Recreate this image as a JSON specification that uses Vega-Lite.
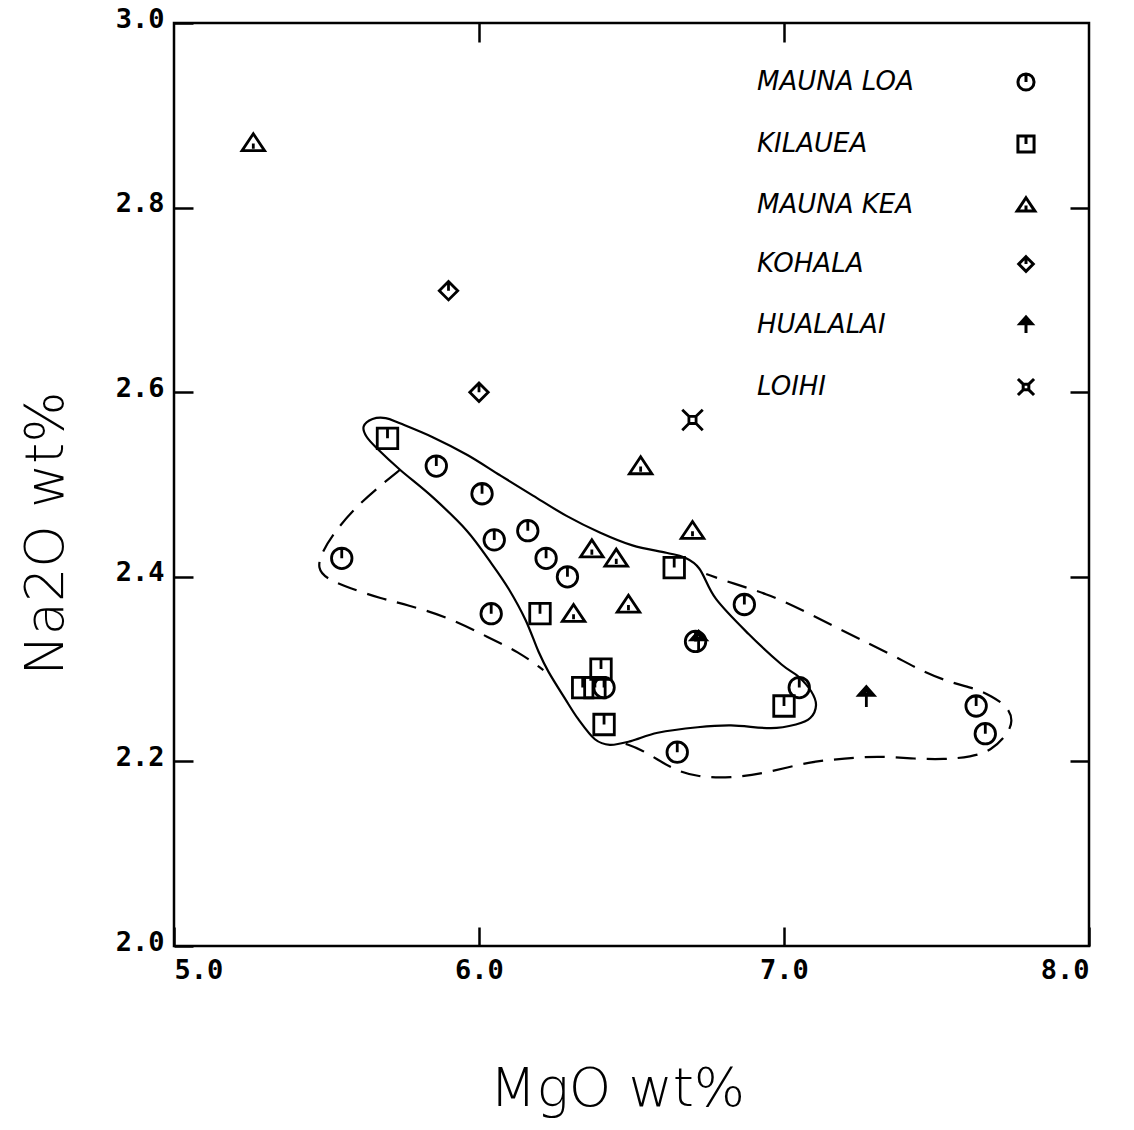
{
  "$schema": "https://vega.github.io/schema/vega-lite/v6.json",
  "width": 915,
  "height": 923,
  "autosize": {"type": "none"},
  "padding": {"left": 174, "top": 23, "right": 45, "bottom": 184},
  "background": "white",
  "config": {
    "view": {"stroke": "black", "strokeWidth": 2.5},
    "axis": {
      "domain": false,
      "grid": false,
      "tickColor": "black",
      "tickWidth": 2.5,
      "tickSize": -19,
      "labelColor": "black",
      "labelFont": "DejaVu Sans Mono",
      "labelFontSize": 27,
      "labelFontWeight": "bold",
      "titleColor": "black",
      "titleFont": "DejaVu Sans",
      "titleFontSize": 54,
      "titleFontWeight": 300
    },
    "legend": {
      "orient": "none", "legendX": 553, "legendY": 46, "padding": 0,
      "symbolOffset": 286, "labelOffset": -282, "rowPadding": 32,
      "symbolSize": 260, "symbolStrokeWidth": 3, "symbolStrokeColor": "black",
      "labelFont": "DejaVu Sans", "labelFontStyle": "italic", "labelFontSize": 26,
      "labelColor": "black", "labelLimit": 0
    }
  },
  "datasets": {
    "samples": [
      {"volcano": "MAUNA LOA", "MgO": 5.55, "Na2O": 2.42},
      {"volcano": "MAUNA LOA", "MgO": 5.86, "Na2O": 2.52},
      {"volcano": "MAUNA LOA", "MgO": 6.01, "Na2O": 2.49},
      {"volcano": "MAUNA LOA", "MgO": 6.05, "Na2O": 2.44},
      {"volcano": "MAUNA LOA", "MgO": 6.16, "Na2O": 2.45},
      {"volcano": "MAUNA LOA", "MgO": 6.22, "Na2O": 2.42},
      {"volcano": "MAUNA LOA", "MgO": 6.29, "Na2O": 2.40},
      {"volcano": "MAUNA LOA", "MgO": 6.04, "Na2O": 2.36},
      {"volcano": "MAUNA LOA", "MgO": 6.87, "Na2O": 2.37},
      {"volcano": "MAUNA LOA", "MgO": 7.05, "Na2O": 2.28},
      {"volcano": "MAUNA LOA", "MgO": 6.65, "Na2O": 2.21},
      {"volcano": "MAUNA LOA", "MgO": 7.63, "Na2O": 2.26},
      {"volcano": "MAUNA LOA", "MgO": 7.66, "Na2O": 2.23},
      {"volcano": "MAUNA LOA", "MgO": 6.71, "Na2O": 2.33},
      {"volcano": "MAUNA LOA", "MgO": 6.41, "Na2O": 2.28},
      {"volcano": "KILAUEA", "MgO": 5.70, "Na2O": 2.55},
      {"volcano": "KILAUEA", "MgO": 6.20, "Na2O": 2.36},
      {"volcano": "KILAUEA", "MgO": 6.64, "Na2O": 2.41},
      {"volcano": "KILAUEA", "MgO": 6.40, "Na2O": 2.30},
      {"volcano": "KILAUEA", "MgO": 6.34, "Na2O": 2.28},
      {"volcano": "KILAUEA", "MgO": 6.38, "Na2O": 2.28},
      {"volcano": "KILAUEA", "MgO": 6.41, "Na2O": 2.24},
      {"volcano": "KILAUEA", "MgO": 7.00, "Na2O": 2.26},
      {"volcano": "MAUNA KEA", "MgO": 5.26, "Na2O": 2.87},
      {"volcano": "MAUNA KEA", "MgO": 6.53, "Na2O": 2.52},
      {"volcano": "MAUNA KEA", "MgO": 6.70, "Na2O": 2.45},
      {"volcano": "MAUNA KEA", "MgO": 6.37, "Na2O": 2.43},
      {"volcano": "MAUNA KEA", "MgO": 6.45, "Na2O": 2.42},
      {"volcano": "MAUNA KEA", "MgO": 6.31, "Na2O": 2.36},
      {"volcano": "MAUNA KEA", "MgO": 6.49, "Na2O": 2.37},
      {"volcano": "KOHALA", "MgO": 5.90, "Na2O": 2.71},
      {"volcano": "KOHALA", "MgO": 6.00, "Na2O": 2.60},
      {"volcano": "HUALALAI", "MgO": 7.27, "Na2O": 2.27},
      {"volcano": "HUALALAI", "MgO": 6.72, "Na2O": 2.33},
      {"volcano": "LOIHI", "MgO": 6.70, "Na2O": 2.57}
    ],
    "fields": [
      {"boundary": "kilauea", "seq": 1, "MgO": 5.622, "Na2O": 2.563},
      {"boundary": "kilauea", "seq": 2, "MgO": 5.651, "Na2O": 2.571},
      {"boundary": "kilauea", "seq": 3, "MgO": 5.694, "Na2O": 2.572},
      {"boundary": "kilauea", "seq": 4, "MgO": 5.743, "Na2O": 2.566},
      {"boundary": "kilauea", "seq": 5, "MgO": 5.850, "Na2O": 2.551},
      {"boundary": "kilauea", "seq": 6, "MgO": 5.962, "Na2O": 2.532},
      {"boundary": "kilauea", "seq": 7, "MgO": 6.069, "Na2O": 2.510},
      {"boundary": "kilauea", "seq": 8, "MgO": 6.177, "Na2O": 2.488},
      {"boundary": "kilauea", "seq": 9, "MgO": 6.287, "Na2O": 2.466},
      {"boundary": "kilauea", "seq": 10, "MgO": 6.396, "Na2O": 2.448},
      {"boundary": "kilauea", "seq": 11, "MgO": 6.503, "Na2O": 2.434},
      {"boundary": "kilauea", "seq": 12, "MgO": 6.614, "Na2O": 2.426},
      {"boundary": "kilauea", "seq": 13, "MgO": 6.673, "Na2O": 2.421},
      {"boundary": "kilauea", "seq": 14, "MgO": 6.722, "Na2O": 2.409},
      {"boundary": "kilauea", "seq": 15, "MgO": 6.777, "Na2O": 2.376},
      {"boundary": "kilauea", "seq": 16, "MgO": 6.884, "Na2O": 2.338},
      {"boundary": "kilauea", "seq": 17, "MgO": 6.992, "Na2O": 2.305},
      {"boundary": "kilauea", "seq": 18, "MgO": 7.047, "Na2O": 2.292},
      {"boundary": "kilauea", "seq": 19, "MgO": 7.089, "Na2O": 2.276},
      {"boundary": "kilauea", "seq": 20, "MgO": 7.105, "Na2O": 2.261},
      {"boundary": "kilauea", "seq": 21, "MgO": 7.086, "Na2O": 2.247},
      {"boundary": "kilauea", "seq": 22, "MgO": 7.039, "Na2O": 2.240},
      {"boundary": "kilauea", "seq": 23, "MgO": 6.957, "Na2O": 2.236},
      {"boundary": "kilauea", "seq": 24, "MgO": 6.826, "Na2O": 2.239},
      {"boundary": "kilauea", "seq": 25, "MgO": 6.717, "Na2O": 2.237},
      {"boundary": "kilauea", "seq": 26, "MgO": 6.586, "Na2O": 2.231},
      {"boundary": "kilauea", "seq": 27, "MgO": 6.498, "Na2O": 2.222},
      {"boundary": "kilauea", "seq": 28, "MgO": 6.429, "Na2O": 2.218},
      {"boundary": "kilauea", "seq": 29, "MgO": 6.380, "Na2O": 2.224},
      {"boundary": "kilauea", "seq": 30, "MgO": 6.325, "Na2O": 2.246},
      {"boundary": "kilauea", "seq": 31, "MgO": 6.282, "Na2O": 2.268},
      {"boundary": "kilauea", "seq": 32, "MgO": 6.228, "Na2O": 2.297},
      {"boundary": "kilauea", "seq": 33, "MgO": 6.195, "Na2O": 2.319},
      {"boundary": "kilauea", "seq": 34, "MgO": 6.153, "Na2O": 2.353},
      {"boundary": "kilauea", "seq": 35, "MgO": 6.099, "Na2O": 2.386},
      {"boundary": "kilauea", "seq": 36, "MgO": 6.044, "Na2O": 2.413},
      {"boundary": "kilauea", "seq": 37, "MgO": 5.960, "Na2O": 2.450},
      {"boundary": "kilauea", "seq": 38, "MgO": 5.849, "Na2O": 2.486},
      {"boundary": "kilauea", "seq": 39, "MgO": 5.741, "Na2O": 2.516},
      {"boundary": "kilauea", "seq": 40, "MgO": 5.666, "Na2O": 2.539},
      {"boundary": "kilauea", "seq": 41, "MgO": 5.631, "Na2O": 2.552},
      {"boundary": "maunaloa-west", "seq": 1, "MgO": 5.741, "Na2O": 2.516},
      {"boundary": "maunaloa-west", "seq": 2, "MgO": 5.685, "Na2O": 2.501},
      {"boundary": "maunaloa-west", "seq": 3, "MgO": 5.610, "Na2O": 2.480},
      {"boundary": "maunaloa-west", "seq": 4, "MgO": 5.533, "Na2O": 2.452},
      {"boundary": "maunaloa-west", "seq": 5, "MgO": 5.483, "Na2O": 2.426},
      {"boundary": "maunaloa-west", "seq": 6, "MgO": 5.470, "Na2O": 2.409},
      {"boundary": "maunaloa-west", "seq": 7, "MgO": 5.499, "Na2O": 2.398},
      {"boundary": "maunaloa-west", "seq": 8, "MgO": 5.574, "Na2O": 2.388},
      {"boundary": "maunaloa-west", "seq": 9, "MgO": 5.682, "Na2O": 2.376},
      {"boundary": "maunaloa-west", "seq": 10, "MgO": 5.761, "Na2O": 2.370},
      {"boundary": "maunaloa-west", "seq": 11, "MgO": 5.901, "Na2O": 2.356},
      {"boundary": "maunaloa-west", "seq": 12, "MgO": 6.032, "Na2O": 2.334},
      {"boundary": "maunaloa-west", "seq": 13, "MgO": 6.129, "Na2O": 2.319},
      {"boundary": "maunaloa-west", "seq": 14, "MgO": 6.211, "Na2O": 2.299},
      {"boundary": "maunaloa-east", "seq": 1, "MgO": 6.481, "Na2O": 2.219},
      {"boundary": "maunaloa-east", "seq": 2, "MgO": 6.531, "Na2O": 2.213},
      {"boundary": "maunaloa-east", "seq": 3, "MgO": 6.585, "Na2O": 2.202},
      {"boundary": "maunaloa-east", "seq": 4, "MgO": 6.641, "Na2O": 2.191},
      {"boundary": "maunaloa-east", "seq": 5, "MgO": 6.716, "Na2O": 2.183},
      {"boundary": "maunaloa-east", "seq": 6, "MgO": 6.825, "Na2O": 2.182},
      {"boundary": "maunaloa-east", "seq": 7, "MgO": 6.936, "Na2O": 2.187},
      {"boundary": "maunaloa-east", "seq": 8, "MgO": 7.087, "Na2O": 2.200},
      {"boundary": "maunaloa-east", "seq": 9, "MgO": 7.199, "Na2O": 2.203},
      {"boundary": "maunaloa-east", "seq": 10, "MgO": 7.308, "Na2O": 2.206},
      {"boundary": "maunaloa-east", "seq": 11, "MgO": 7.416, "Na2O": 2.203},
      {"boundary": "maunaloa-east", "seq": 12, "MgO": 7.527, "Na2O": 2.202},
      {"boundary": "maunaloa-east", "seq": 13, "MgO": 7.613, "Na2O": 2.205},
      {"boundary": "maunaloa-east", "seq": 14, "MgO": 7.678, "Na2O": 2.211},
      {"boundary": "maunaloa-east", "seq": 15, "MgO": 7.734, "Na2O": 2.230},
      {"boundary": "maunaloa-east", "seq": 16, "MgO": 7.751, "Na2O": 2.244},
      {"boundary": "maunaloa-east", "seq": 17, "MgO": 7.735, "Na2O": 2.259},
      {"boundary": "maunaloa-east", "seq": 18, "MgO": 7.679, "Na2O": 2.271},
      {"boundary": "maunaloa-east", "seq": 19, "MgO": 7.628, "Na2O": 2.279},
      {"boundary": "maunaloa-east", "seq": 20, "MgO": 7.549, "Na2O": 2.285},
      {"boundary": "maunaloa-east", "seq": 21, "MgO": 7.451, "Na2O": 2.298},
      {"boundary": "maunaloa-east", "seq": 22, "MgO": 7.352, "Na2O": 2.316},
      {"boundary": "maunaloa-east", "seq": 23, "MgO": 7.212, "Na2O": 2.338},
      {"boundary": "maunaloa-east", "seq": 24, "MgO": 7.049, "Na2O": 2.366},
      {"boundary": "maunaloa-east", "seq": 25, "MgO": 6.941, "Na2O": 2.382},
      {"boundary": "maunaloa-east", "seq": 26, "MgO": 6.830, "Na2O": 2.393},
      {"boundary": "maunaloa-east", "seq": 27, "MgO": 6.745, "Na2O": 2.403}
    ]
  },
  "resolve": {"axis": {"x": "independent", "y": "independent"}},
  "layer": [
    {
      "data": {"name": "fields"},
      "transform": [{"filter": "datum.boundary === 'kilauea'"}],
      "mark": {"type": "line", "interpolate": "cardinal-closed", "color": "black", "strokeWidth": 2.2},
      "encoding": {
        "x": {
          "field": "MgO", "type": "quantitative",
          "scale": {"domain": [5, 8], "nice": false, "zero": false},
          "axis": {
            "orient": "bottom", "values": [5, 6, 7, 8], "format": ".1f",
            "labelPadding": 30, "title": "MgO wt%",
            "titleX": 443, "titleY": 159, "titleAlign": "center", "titleBaseline": "alphabetic"
          }
        },
        "y": {
          "field": "Na2O", "type": "quantitative",
          "scale": {"domain": [2, 3], "nice": false, "zero": false},
          "axis": {
            "orient": "left", "values": [2, 2.2, 2.4, 2.6, 2.8, 3], "format": ".1f",
            "labelPadding": 29, "labelOffset": -4, "title": "Na2O wt%",
            "titleX": -112, "titleY": 510, "titleAngle": -90, "titleAlign": "center", "titleBaseline": "alphabetic"
          }
        },
        "order": {"field": "seq", "type": "quantitative"}
      }
    },
    {
      "data": {"name": "fields"},
      "transform": [{"filter": "datum.boundary !== 'kilauea'"}],
      "mark": {"type": "line", "interpolate": "basis", "color": "black", "strokeWidth": 2.2, "strokeDash": [20, 11]},
      "encoding": {
        "x": {
          "field": "MgO", "type": "quantitative",
          "axis": {"orient": "top", "values": [6, 7], "labels": false, "title": null}
        },
        "y": {
          "field": "Na2O", "type": "quantitative",
          "axis": {"orient": "right", "values": [2.2, 2.4, 2.6, 2.8], "labels": false, "title": null}
        },
        "detail": {"field": "boundary"},
        "order": {"field": "seq", "type": "quantitative"}
      }
    },
    {
      "data": {"name": "samples"},
      "mark": {"type": "point", "filled": false, "color": "black", "strokeWidth": 2.8, "size": 420, "opacity": 1},
      "encoding": {
        "x": {"field": "MgO", "type": "quantitative", "axis": null},
        "y": {"field": "Na2O", "type": "quantitative", "axis": null},
        "shape": {
          "field": "volcano", "type": "nominal",
          "scale": {
            "domain": ["MAUNA LOA", "KILAUEA", "MAUNA KEA", "KOHALA", "HUALALAI", "LOIHI"],
            "range": [
              "M0,-1A1,1,0,1,1,0,1A1,1,0,1,1,0,-1ZM0,-1V0",
              "M-1,-1H1V1H-1ZM0,-1V0",
              "M0,-0.9L1.1,0.75H-1.1ZM0,0.05V0.55",
              "M0,-0.9L0.9,0L0,0.9L-0.9,0ZM0,-0.9V0",
              "M0,1V-0.3M-0.75,-0.15L0,-1L0.75,-0.15ZM-0.35,-0.3L0,-0.7L0.35,-0.3Z",
              "M-1,-1L-0.35,-0.35M1,-1L0.35,-0.35M1,1L0.35,0.35M-1,1L-0.35,0.35M-0.35,-0.35H0.35V0.35H-0.35Z"
            ]
          },
          "legend": {"title": null}
        }
      }
    }
  ]
}
